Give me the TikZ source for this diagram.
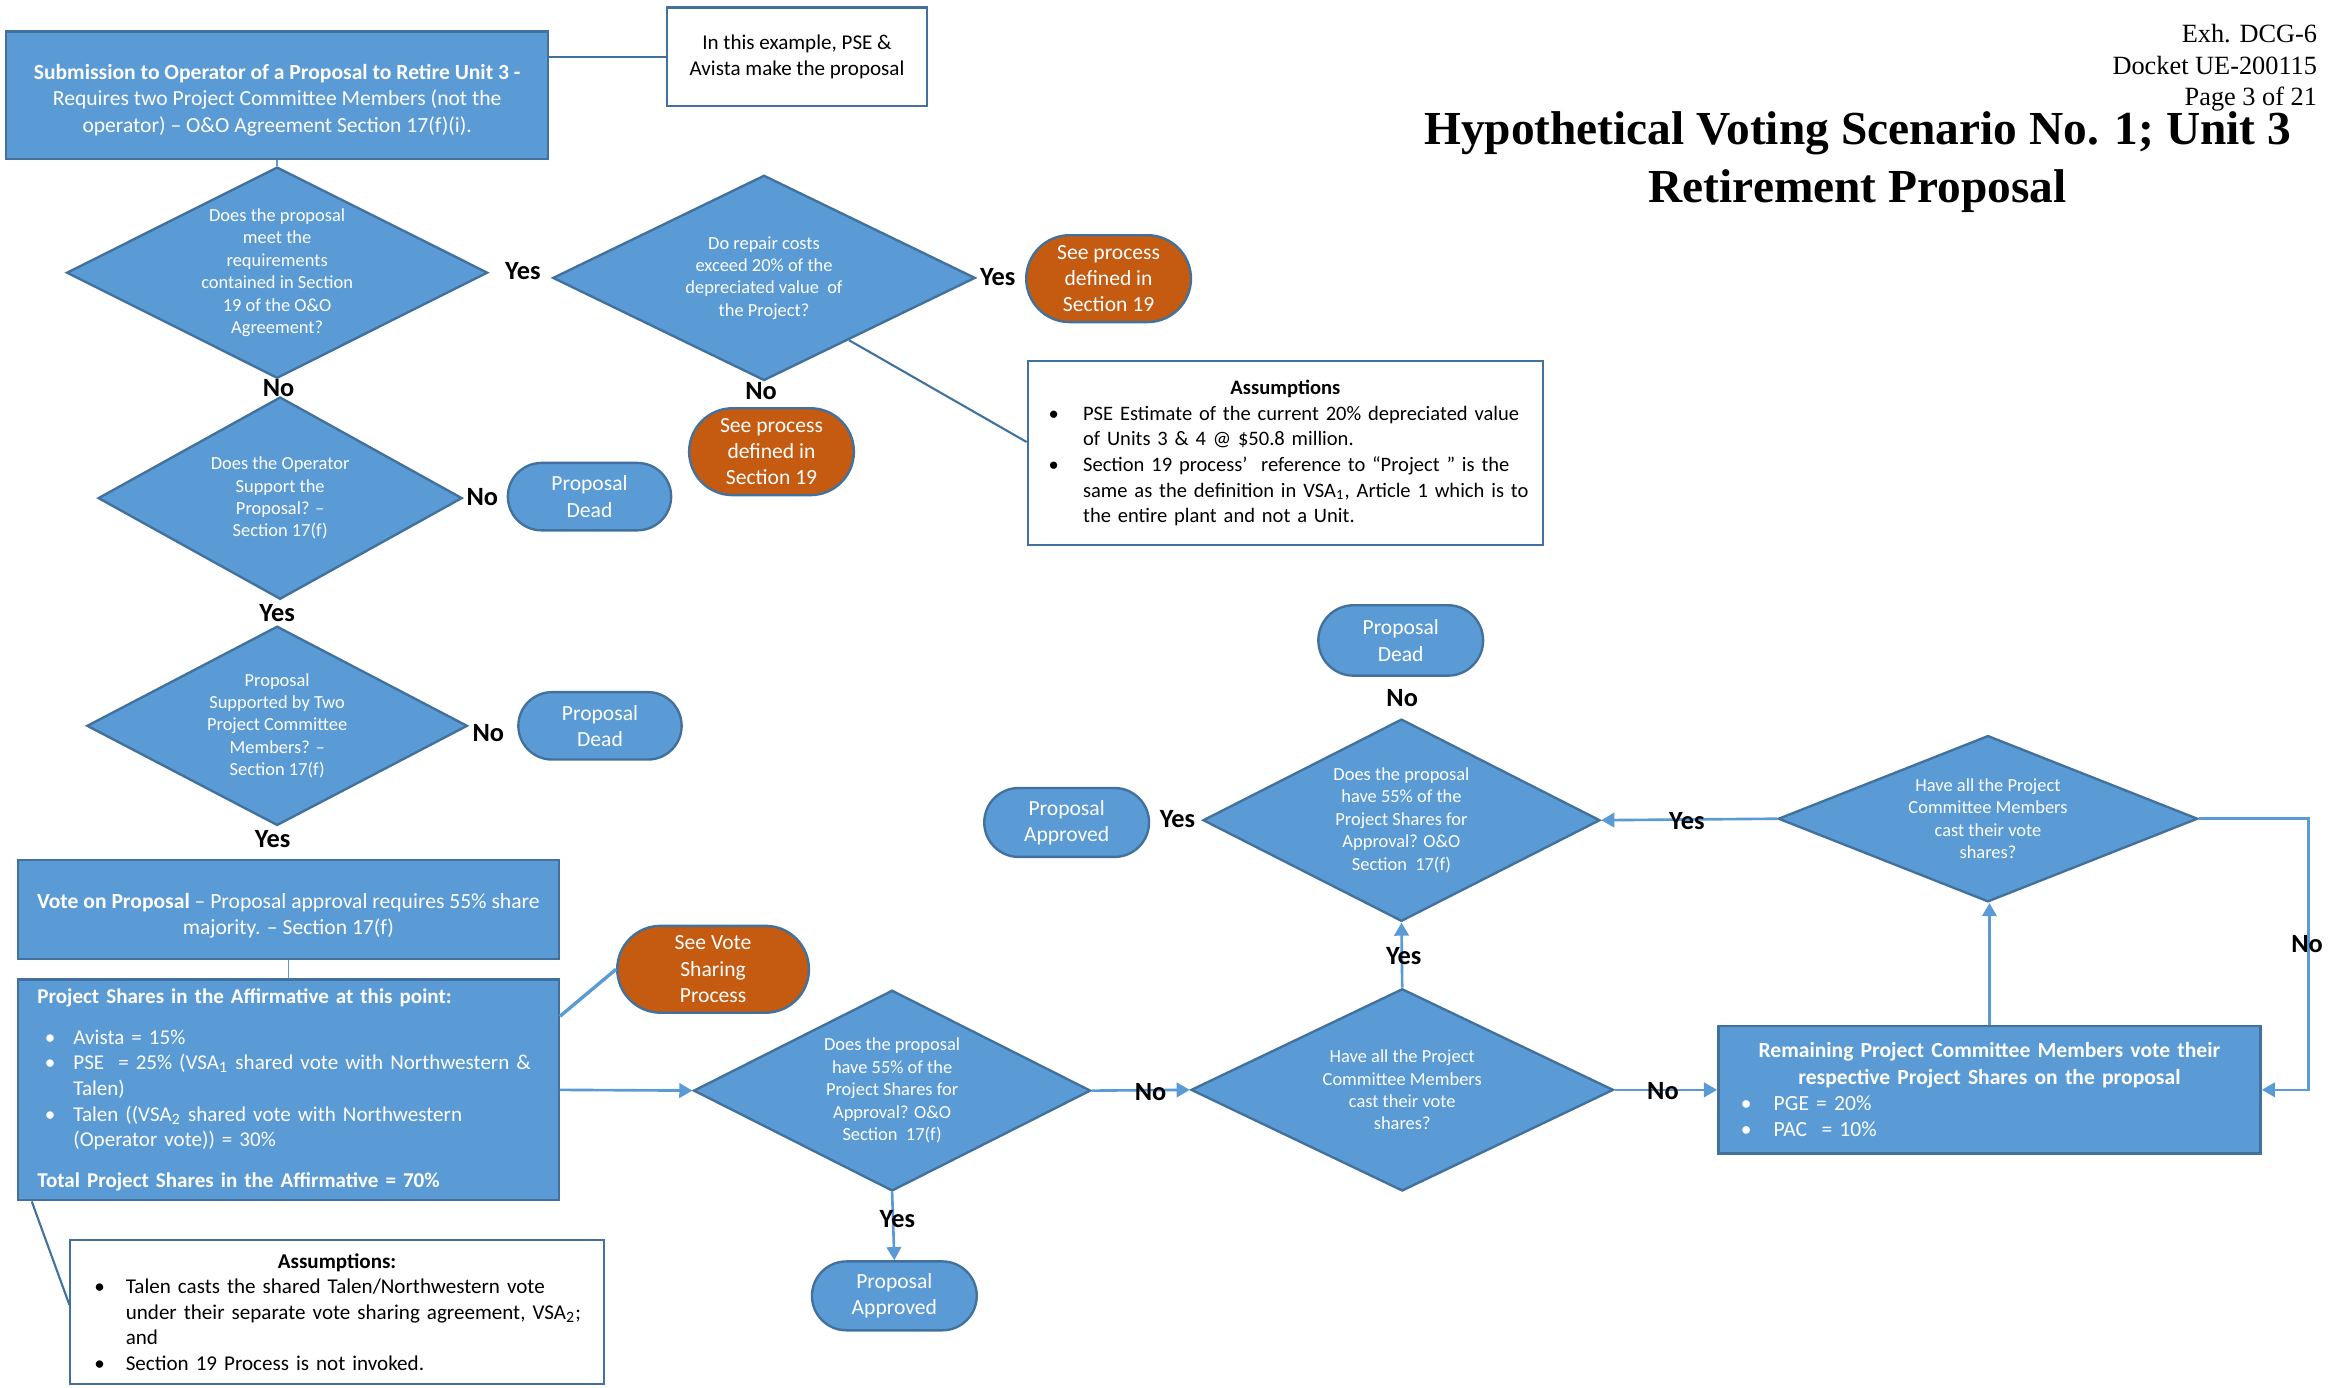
\documentclass[tikz,border=0pt]{standalone}
\usepackage{fontspec}
\setmainfont{Carlito}
\newfontfamily\titlefont{Liberation Serif}
\usepackage{tikz}
\usetikzlibrary{positioning, arrows.meta, shapes.geometric, shapes.misc, calc}
\definecolor{shapeblue}{RGB}{91,155,213}
\definecolor{shapeedge}{RGB}{65,113,156}
\definecolor{refcolor}{RGB}{197,90,17}
\definecolor{flowblue}{RGB}{91,155,213}
\definecolor{memoedge}{RGB}{65,113,156}
\newcommand{\diafont}{\fontsize{7}{8.5}\selectfont}
\newcommand{\boxfont}{\fontsize{8.2}{10}\selectfont}
\newcommand{\notefont}{\fontsize{8}{9.7}\selectfont}
\newcommand{\ansfont}{\fontsize{10}{12}\selectfont\bfseries}
\newcommand{\bitem}[2][4.6mm]{\mbox{\makebox[#1][l]{\textbullet}#2}}
\newcommand{\bcont}[2][4.6mm]{\mbox{\hspace*{#1}#2}}

\begin{document}
\begin{tikzpicture}[x=0.2mm, y=-0.2mm,
    question/.style={diamond, draw=shapeedge, fill=shapeblue, line width=0.9pt, text=white, align=center, inner sep=0pt, font=\diafont},
    stepbox/.style={rectangle, draw=shapeedge, fill=shapeblue, line width=0.9pt, text=white, font=\boxfont},
    outcome/.style={rounded rectangle, draw=shapeedge, fill=shapeblue, line width=0.9pt, text=white, align=center, inner sep=0pt, minimum width=22mm, minimum height=9.2mm, font=\boxfont},
    refer/.style={outcome, fill=refcolor, minimum height=11.6mm},
    memo/.style={rectangle, draw=memoedge, fill=white, line width=0.8pt, font=\notefont},
    answer/.style={font=\ansfont},
    flow/.style={draw=flowblue, line width=1pt, -{Triangle[length=5pt,width=5.5pt]}},
    tie/.style={draw=memoedge, line width=0.8pt}]
    \useasboundingbox (0,0) rectangle (1568,926);

    % Titre et en-tête
    \node[anchor=north east, align=right, inner sep=0pt, font=\titlefont\fontsize{10}{12}\selectfont] (exhibit) at (1547,16) {Exh. DCG-6\\ Docket UE-200115\\ Page 3 of 21};
    \node[align=center, font=\titlefont\bfseries\fontsize{18}{22}\selectfont] (title) at (1240,108) {Hypothetical Voting Scenario No. 1; Unit 3\\ Retirement Proposal};

    % Soumission de la proposition
    \node[stepbox, align=center, minimum width=72.4mm, minimum height=17mm] (submit) at (185,63.5) {\rule{0pt}{9.6pt}\textbf{Submission to Operator of a Proposal to Retire Unit 3 -}\\ Requires two Project Committee Members (not the\\ operator) – O\&O Agreement Section 17(f)(i).};
    \node[memo, align=center, minimum width=34.8mm, minimum height=13.2mm] (example) at (532,38) {In this example, PSE \&\\ Avista make the proposal};

    % Section 19
    \node[question, aspect=1.99, minimum width=56.2mm, minimum height=28.2mm] (meetreq) at (185,182) {Does the proposal\\ meet the\\ requirements\\ contained in Section\\ 19 of the O\&O\\ Agreement?};
    \node[question, aspect=2.06, minimum width=56.4mm, minimum height=27.4mm] (repair) at (510,185.5) {Do repair costs\\ exceed 20\% of the\\ depreciated value~ of\\ the Project?};
    \node[refer] (sectyes) at (740,186) {See process\\ defined in\\ Section 19};
    \node[refer] (sectno) at (515,301.5) {See process\\ defined in\\ Section 19};
    \node[memo, font=\fontsize{7.8}{9.7}\selectfont, align=left, text width=63.2mm, inner xsep=2.8mm, minimum height=24.6mm] (assume) at (858,302.5) {\makebox[\hsize]{\textbf{Assumptions}}\\
        \bitem{PSE Estimate of the current 20\% depreciated value}\\
        \bcont{of Units 3 \& 4 @ \$50.8 million.}\\
        \bitem{Section 19 process’~ reference to “Project ” is the}\\
        \bcont{same as the definition in VSA\textsubscript{1}, Article 1 which is to}\\
        \bcont{the entire plant and not a Unit.}};

    % Soutien de l'opérateur et des membres
    \node[question, aspect=1.8, minimum width=48.6mm, minimum height=27mm] (opsupport) at (187,332.5) {Does the Operator\\ Support the\\ Proposal? –\\ Section 17(f)};
    \node[outcome, minimum width=21.8mm, minimum height=9mm] (deadop) at (393.5,331.5) {Proposal\\ Dead};
    \node[question, aspect=1.9, minimum width=50.8mm, minimum height=26.6mm] (twosupport) at (185,484.5) {Proposal\\ Supported by Two\\ Project Committee\\ Members? –\\ Section 17(f)};
    \node[outcome, minimum width=21.8mm, minimum height=9mm] (deadtwo) at (400.5,484.5) {Proposal\\ Dead};

    % Vote
    \node[stepbox, align=center, minimum width=72.2mm, minimum height=13.2mm] (vote) at (192.5,607) {\rule{0pt}{10.6pt}\textbf{Vote on Proposal} – Proposal approval requires 55\% share\\ majority. – Section 17(f)};
    \node[stepbox, font=\notefont, align=left, text width=67mm, inner xsep=2.6mm, minimum height=28.6mm] (shares) at (192.5,727.5) {\textbf{Project Shares in the Affirmative at this point:}\\[6pt]
        \hspace*{1mm}\bitem[3.8mm]{Avista = 15\%}\\
        \hspace*{1mm}\bitem[3.8mm]{PSE~ = 25\% (VSA\textsubscript{1} shared vote with Northwestern \&}\\
        \bcont[4.8mm]{Talen)}\\
        \hspace*{1mm}\bitem[3.8mm]{Talen ((VSA\textsubscript{2} shared vote with Northwestern}\\
        \bcont[4.8mm]{(Operator vote)) = 30\%}\\[6pt]
        \textbf{Total Project Shares in the Affirmative = 70\%}};
    \node[refer, minimum width=25.6mm] (voteshare) at (476,647) {See Vote\\ Sharing\\ Process};
    \node[memo, anchor=north, align=left, text width=64.8mm, inner xsep=3.2mm, inner ysep=1.8mm] (assumetwo) at (225,827) {\makebox[\hsize]{\textbf{Assumptions:}}\\
        \bitem[4.2mm]{Talen casts the shared Talen/Northwestern vote}\\
        \bcont[4.2mm]{under their separate vote sharing agreement, VSA\textsubscript{2};}\\
        \bcont[4.2mm]{and}\\
        \bitem[4.2mm]{Section 19 Process is not invoked.}};

    % Premier décompte
    \node[question, aspect=1.98, minimum width=53mm, minimum height=26.8mm] (firstcount) at (595.5,728) {Does the proposal\\ have 55\% of the\\ Project Shares for\\ Approval? O\&O\\ Section~ 17(f)};
    \node[outcome] (approvedlow) at (597,865) {Proposal\\ Approved};
    \node[question, aspect=2.09, minimum width=56.4mm, minimum height=27mm] (allcast) at (936,727.5) {Have all the Project\\ Committee Members\\ cast their vote\\ shares?};

    % Second décompte
    \node[question, aspect=1.96, minimum width=53mm, minimum height=27mm] (secondcount) at (935.5,547.5) {Does the proposal\\ have 55\% of the\\ Project Shares for\\ Approval? O\&O\\ Section~ 17(f)};
    \node[outcome, minimum height=9.4mm] (deadtop) at (935,427.5) {Proposal\\ Dead};
    \node[outcome] (approvedtop) at (712,549) {Proposal\\ Approved};
    \node[question, aspect=2.52, minimum width=56mm, minimum height=22.2mm] (allcasttwo) at (1327,546.5) {Have all the Project\\ Committee Members\\ cast their vote\\ shares?};
    \node[stepbox, align=center, text width=66.4mm, inner xsep=3mm, minimum height=17mm] (remaining) at (1328,727.5) {\textbf{Remaining Project Committee Members vote their}\\
        \textbf{respective Project Shares on the proposal}\\
        \makebox[\hsize][l]{\bitem[4.4mm]{PGE = 20\%}}\\
        \makebox[\hsize][l]{\bitem[4.4mm]{PAC~ = 10\%}}};
    \coordinate (loopturn) at (1541,546.5);

    % Liens
    \draw[draw=flowblue, line width=0.6pt] (submit.south) -- (meetreq.north);
    \draw[tie] (example.west) -- (example.west -| submit.east);
    \draw[tie] ($(repair.south)!0.4!(repair.east)$) -- ($(assume.north west)!0.44!(assume.south west)$);
    \draw[draw=flowblue, line width=0.6pt] (vote.south) -- (shares.north);
    \draw[draw=flowblue, line width=1.3pt] ($(shares.north east)!0.17!(shares.south east)$) -- (voteshare.west);
    \draw[tie] ($(shares.south west)+(10,0)$) -- ($(assumetwo.north west)!0.45!(assumetwo.south west)$);

    % Flèches
    \draw[flow] (shares.east) -- (firstcount.west);
    \draw[flow] (firstcount.east) -- (allcast.west);
    \draw[flow] (firstcount.south) -- (approvedlow.north);
    \draw[flow] (allcast.north) -- (secondcount.south);
    \draw[flow] (allcast.east) -- (remaining.west);
    \draw[flow] (remaining.north) -- (remaining.north |- allcasttwo.south);
    \draw[flow] (allcasttwo.west) -- (secondcount.east);
    \draw[flow] (allcasttwo.east) -- (loopturn) |- (remaining.east);

    % Réponses
    \node[answer] (yesmeet) at (349,181) {Yes};
    \node[answer] (nomeet) at (186,259) {No};
    \node[answer] (yesrepair) at (666,185) {Yes};
    \node[answer] (norepair) at (508,261) {No};
    \node[answer] (noop) at (322,332) {No};
    \node[answer] (yesop) at (185,409) {Yes};
    \node[answer] (notwo) at (326,489) {No};
    \node[answer] (yestwo) at (182,560) {Yes};
    \node[answer] (nofirst) at (768,729) {No};
    \node[answer] (yesfirst) at (599,814) {Yes};
    \node[answer] (yescast) at (937,638) {Yes};
    \node[answer] (nocast) at (1110,728) {No};
    \node[answer] (nosecond) at (936,466) {No};
    \node[answer] (yessecond) at (786,547) {Yes};
    \node[answer] (yescasttwo) at (1126,548) {Yes};
    \node[answer] (nocasttwo) at (1540,630) {No};
\end{tikzpicture}
\end{document}
